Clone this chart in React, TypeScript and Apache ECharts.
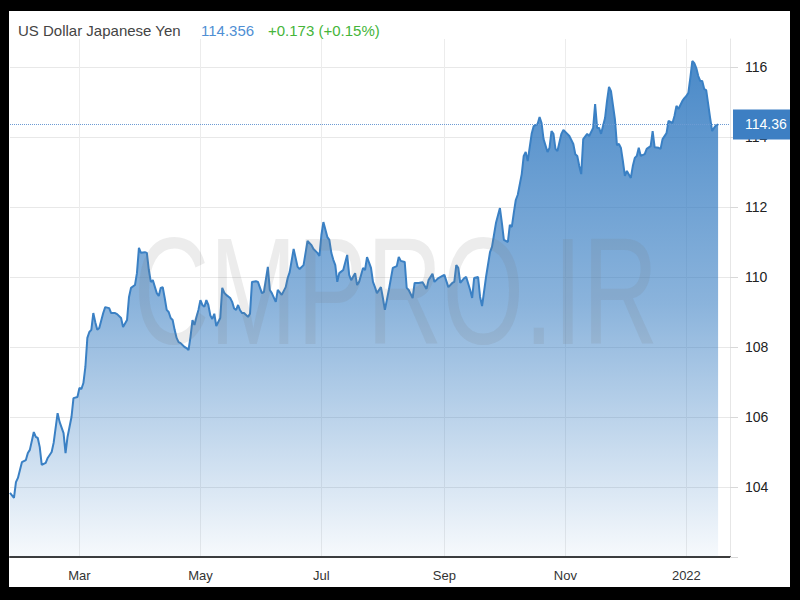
import React, { useEffect, useRef } from 'react';
import * as echarts from 'echarts';

const titleText = 'US Dollar Japanese Yen';
const lastPriceText = '114.356';
const changeText = '+0.173 (+0.15%)';
const lastValue = 114.356;
const lastValueLabel = '114.36';
const watermarkText = 'CMPRO.IR';

const xMinDate = '2021-01-25';
const xMaxDate = '2022-01-23';
const xTickDates = ['2021-03-01', '2021-05-01', '2021-07-01', '2021-09-01', '2021-11-01', '2022-01-01'];
const xTickLabels = ['Mar', 'May', 'Jul', 'Sep', 'Nov', '2022'];
const yTicks = [102, 104, 106, 108, 110, 112, 114, 116];
const yLabels = [104, 106, 108, 110, 112, 114, 116];

const dates = [
  '2021-01-25','2021-01-27','2021-01-28','2021-01-29','2021-01-31','2021-02-02','2021-02-03','2021-02-04',
  '2021-02-06','2021-02-07','2021-02-08','2021-02-09','2021-02-10','2021-02-12','2021-02-13','2021-02-15',
  '2021-02-16','2021-02-18','2021-02-19','2021-02-21','2021-02-22','2021-02-23','2021-02-25','2021-02-26',
  '2021-02-28','2021-03-01','2021-03-02','2021-03-03','2021-03-04','2021-03-05','2021-03-06','2021-03-07',
  '2021-03-08','2021-03-09','2021-03-10','2021-03-11','2021-03-13','2021-03-14','2021-03-16','2021-03-17',
  '2021-03-19','2021-03-20','2021-03-22','2021-03-23','2021-03-25','2021-03-26','2021-03-27','2021-03-29',
  '2021-03-30','2021-03-31','2021-04-01','2021-04-03','2021-04-04','2021-04-05','2021-04-06','2021-04-07',
  '2021-04-09','2021-04-10','2021-04-11','2021-04-12','2021-04-13','2021-04-14','2021-04-15','2021-04-16',
  '2021-04-17','2021-04-18','2021-04-19','2021-04-20','2021-04-21','2021-04-23','2021-04-24','2021-04-25',
  '2021-04-26','2021-04-27','2021-04-28','2021-04-29','2021-04-30','2021-05-01','2021-05-02','2021-05-03',
  '2021-05-04','2021-05-05','2021-05-06','2021-05-07','2021-05-08','2021-05-09','2021-05-11','2021-05-12',
  '2021-05-13','2021-05-14','2021-05-16','2021-05-17','2021-05-18','2021-05-19','2021-05-20','2021-05-21',
  '2021-05-22','2021-05-23','2021-05-25','2021-05-26','2021-05-27','2021-05-29','2021-05-30','2021-06-01',
  '2021-06-02','2021-06-04','2021-06-05','2021-06-06','2021-06-08','2021-06-09','2021-06-11','2021-06-13',
  '2021-06-14','2021-06-15','2021-06-17','2021-06-19','2021-06-20','2021-06-22','2021-06-24','2021-06-26',
  '2021-06-27','2021-06-29','2021-06-30','2021-07-01','2021-07-02','2021-07-04','2021-07-05','2021-07-06',
  '2021-07-07','2021-07-08','2021-07-09','2021-07-10','2021-07-12','2021-07-14','2021-07-15','2021-07-16',
  '2021-07-18','2021-07-19','2021-07-20','2021-07-22','2021-07-23','2021-07-24','2021-07-26','2021-07-27',
  '2021-07-28','2021-07-29','2021-07-31','2021-08-01','2021-08-02','2021-08-04','2021-08-06','2021-08-08',
  '2021-08-09','2021-08-10','2021-08-12','2021-08-13','2021-08-14','2021-08-16','2021-08-17','2021-08-19',
  '2021-08-21','2021-08-23','2021-08-24','2021-08-26','2021-08-27','2021-08-29','2021-08-31','2021-09-01',
  '2021-09-03','2021-09-05','2021-09-06','2021-09-07','2021-09-08','2021-09-09','2021-09-11','2021-09-12',
  '2021-09-14','2021-09-15','2021-09-16','2021-09-18','2021-09-19','2021-09-20','2021-09-22','2021-09-24',
  '2021-09-25','2021-09-26','2021-09-27','2021-09-29','2021-09-30','2021-10-01','2021-10-03','2021-10-04',
  '2021-10-05','2021-10-06','2021-10-07','2021-10-08','2021-10-10','2021-10-11','2021-10-12','2021-10-13',
  '2021-10-15','2021-10-16','2021-10-18','2021-10-19','2021-10-20','2021-10-21','2021-10-23','2021-10-24',
  '2021-10-25','2021-10-26','2021-10-27','2021-10-28','2021-10-30','2021-10-31','2021-11-02','2021-11-03',
  '2021-11-05','2021-11-06','2021-11-07','2021-11-08','2021-11-09','2021-11-10','2021-11-12','2021-11-13',
  '2021-11-15','2021-11-16','2021-11-17','2021-11-18','2021-11-19','2021-11-21','2021-11-22','2021-11-23',
  '2021-11-24','2021-11-26','2021-11-27','2021-11-28','2021-11-29','2021-11-30','2021-12-01','2021-12-02',
  '2021-12-04','2021-12-05','2021-12-06','2021-12-07','2021-12-08','2021-12-09','2021-12-11','2021-12-12',
  '2021-12-14','2021-12-15','2021-12-16','2021-12-18','2021-12-19','2021-12-20','2021-12-22','2021-12-23',
  '2021-12-25','2021-12-26','2021-12-27','2021-12-28','2021-12-30','2021-12-31','2022-01-01','2022-01-02',
  '2022-01-03','2022-01-04','2022-01-05','2022-01-06','2022-01-07','2022-01-08','2022-01-09','2022-01-10',
  '2022-01-11','2022-01-12','2022-01-13','2022-01-14','2022-01-15','2022-01-16','2022-01-17'
];

const values = [
  103.83,103.69,104.14,104.26,104.71,104.77,104.97,105.06,
  105.57,105.43,105.40,105.14,104.63,104.69,104.83,105.00,
  105.26,106.11,105.86,105.54,104.97,105.43,106.00,106.54,
  106.57,106.83,106.80,106.97,107.43,108.26,108.43,108.49,
  108.97,108.71,108.49,108.54,108.97,109.14,109.11,108.97,
  108.97,108.94,108.83,108.57,108.77,109.43,109.69,109.77,
  110.11,110.83,110.69,110.71,110.69,110.20,109.86,109.91,
  109.54,109.46,109.69,109.71,109.40,109.06,109.00,108.83,
  108.77,108.49,108.26,108.14,108.11,108.00,107.97,107.91,
  108.29,108.77,108.63,108.86,109.06,109.34,109.20,109.15,
  109.34,109.20,108.90,108.80,108.95,108.60,108.83,109.69,
  109.55,109.49,109.40,109.29,109.10,109.06,109.20,109.05,
  108.97,108.97,108.86,108.95,109.86,109.88,109.86,109.54,
  109.57,110.29,109.63,109.54,109.29,109.63,109.49,109.71,
  109.97,110.14,110.80,110.29,110.23,110.34,111.03,110.91,
  110.80,110.69,110.60,111.20,111.57,111.14,111.06,110.69,
  110.49,110.34,109.86,110.11,110.20,110.63,110.06,109.91,
  110.11,109.77,109.86,110.26,110.20,110.57,110.26,109.86,
  109.71,109.54,109.71,109.40,109.06,109.63,110.26,110.31,
  110.57,110.46,110.43,109.69,109.63,109.40,109.83,109.83,
  109.85,109.66,109.91,110.09,109.86,109.97,110.03,110.06,
  109.71,109.83,109.86,110.34,110.26,109.83,109.97,110.00,
  109.63,109.40,109.97,110.00,109.43,109.17,110.00,110.71,
  110.86,111.20,111.54,111.97,111.54,111.06,111.00,111.49,
  111.43,111.83,112.20,112.35,112.94,113.46,113.57,113.31,
  114.09,114.31,114.37,114.57,114.40,113.94,113.57,113.69,
  114.17,114.09,113.66,113.60,114.09,114.20,114.09,114.03,
  113.80,113.51,113.46,113.17,112.94,113.94,114.09,114.03,
  114.26,114.94,114.26,114.26,114.09,114.54,115.03,115.43,
  115.31,114.50,113.77,113.80,113.69,113.31,112.89,113.03,
  112.83,113.17,113.40,113.46,113.69,113.46,113.51,113.66,
  113.74,114.17,113.71,113.69,113.66,113.94,114.11,114.46,
  114.40,114.60,114.89,114.80,115.03,115.11,115.17,115.26,
  115.69,116.17,116.11,115.97,115.74,115.60,115.60,115.37,
  115.34,114.94,114.54,114.17,114.26,114.34,114.356
];

const FONT = 'Arial, "Liberation Sans", sans-serif';

function ts(s: string): number {
  const [y, m, d] = s.split('-').map(Number);
  return Date.UTC(y, m - 1, d);
}

export default function App() {
  const ref = useRef<HTMLDivElement>(null);
  useEffect(() => {
    if (!ref.current) return;
    const chart = echarts.init(ref.current, null, { renderer: 'svg' });
    const xTickTs = xTickDates.map(ts);
    const seriesData = dates.map((d, i) => [ts(d), values[i]]);
    const option: any = {
      animation: false,
      backgroundColor: '#ffffff',
      grid: { left: 1, right: 60, top: 28, bottom: 30, containLabel: false },
      xAxis: {
        type: 'value',
        min: ts(xMinDate),
        max: ts(xMaxDate),
        axisLine: { show: true, lineStyle: { color: '#3c3c3c', width: 2 } },
        axisTick: { show: false, customValues: xTickTs },
        axisLabel: {
          customValues: xTickTs,
          color: '#333',
          fontSize: 13,
          fontFamily: FONT,
          margin: 12,
          formatter: (v: number) => {
            let best = 0;
            let bd = Infinity;
            xTickTs.forEach((t, i) => {
              const dd = Math.abs(t - v);
              if (dd < bd) { bd = dd; best = i; }
            });
            return xTickLabels[best];
          },
        },
        splitLine: { show: true, lineStyle: { color: '#ececec', width: 1 } },
      },
      yAxis: {
        type: 'value',
        position: 'right',
        min: 102,
        max: 116.8,
        axisLine: { show: true, lineStyle: { color: '#e6e6e6' } },
        axisTick: { show: true, length: 8, customValues: yTicks, lineStyle: { color: '#d8d8d8' } },
        axisLabel: { customValues: yLabels, margin: 15, color: '#222', fontSize: 14, fontFamily: FONT },
        splitLine: { show: true, lineStyle: { color: '#e8e8e8', width: 1 } },
      },
      series: [
        {
          type: 'line',
          data: seriesData,
          symbol: 'none',
          showSymbol: false,
          lineStyle: { color: '#3a80c4', width: 2 },
          areaStyle: {
            opacity: 1,
            color: new echarts.graphic.LinearGradient(0, 40, 0, 546, [
              { offset: 0, color: 'rgba(47,120,192,0.88)' },
              { offset: 0.5, color: 'rgba(47,120,192,0.56)' },
              { offset: 1, color: 'rgba(47,120,192,0.04)' },
            ], true),
          },
          markLine: {
            silent: true,
            symbol: ['none', 'none'],
            lineStyle: { type: 'dotted', color: '#6d9bd3', width: 1 },
            label: {
              show: true,
              position: 'end',
              formatter: lastValueLabel,
              color: '#ffffff',
              backgroundColor: '#3d7fc3',
              padding: [8, 14, 8, 12],
              fontSize: 14,
              fontFamily: FONT,
              distance: 3,
            },
            data: [{ yAxis: lastValue }],
          },
        },
      ],
      graphic: [
        {
          type: 'text', x: 9, y: 19, silent: true,
          style: { text: titleText, fill: '#444', font: `15px ${FONT}`, align: 'left', verticalAlign: 'middle' },
        },
        {
          type: 'text', x: 192, y: 19, silent: true,
          style: { text: lastPriceText, fill: '#4f8fd4', font: `15px ${FONT}`, align: 'left', verticalAlign: 'middle' },
        },
        {
          type: 'text', x: 259, y: 19, silent: true,
          style: { text: changeText, fill: '#45b53a', font: `15px ${FONT}`, align: 'left', verticalAlign: 'middle' },
        },
        {
          type: 'text', x: 387, y: 281, scaleX: 0.69, z: 100, silent: true,
          style: { text: watermarkText, fill: 'rgba(120,120,120,0.14)', font: `152px ${FONT}`, align: 'center', verticalAlign: 'middle' },
        },
      ],
    };
    chart.setOption(option);
    return () => chart.dispose();
  }, []);
  return (
    <div style={{ position: 'absolute', left: 0, top: 0, width: 800, height: 600, background: '#000' }}>
      <div ref={ref} style={{ position: 'absolute', left: 9, top: 11, width: 781, height: 576, background: '#fff' }} />
    </div>
  );
}
